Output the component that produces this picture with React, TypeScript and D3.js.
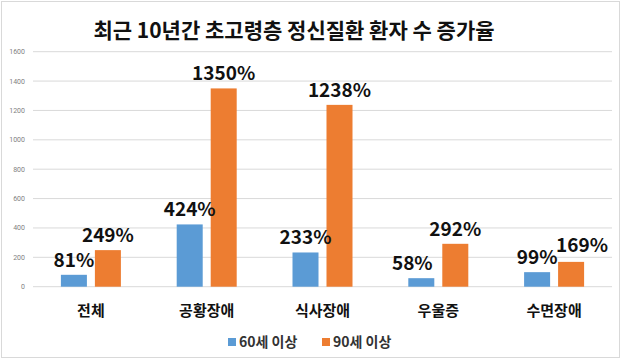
import React, { useEffect, useRef } from "react";
import * as d3 from "d3";

// chart data
const categories = ["전체", "공황장애", "식사장애", "우울증", "수면장애"];
const seriesNames = ["60세 이상", "90세 이상"];
const age60 = [81, 424, 233, 58, 99];
const age90 = [249, 1350, 1238, 292, 169];
const yTicks = [0, 200, 400, 600, 800, 1000, 1200, 1400, 1600];
const colors = ["#5B9BD5", "#ED7D31"];

const W = 622;
const H = 363;
const KR = "'Noto Sans CJK KR', 'Noto Sans', sans-serif";

// labels that were dragged aside in the original so they don't collide
const labelShift: Record<string, [number, number]> = {
  "우울증|60세 이상": [-9, 0],
  "수면장애|90세 이상": [11, -2],
};

export default function App() {
  const ref = useRef<SVGSVGElement>(null);

  useEffect(() => {
    const svg = d3.select(ref.current);
    svg.selectAll("*").remove();

    // outer border
    svg.append("rect")
      .attr("x", 1.5).attr("y", 1.5)
      .attr("width", W - 4).attr("height", 356)
      .attr("fill", "#fff")
      .attr("stroke", "#d9d9d9");

    // title
    svg.append("text")
      .attr("x", 294).attr("y", 38)
      .attr("text-anchor", "middle")
      .attr("font-family", KR)
      .attr("font-weight", 700)
      .attr("font-size", 21)
      .attr("fill", "#111")
      .text("최근 10년간 초고령층 정신질환 환자 수 증가율");

    var left = 33, right = 612;
    var y = d3.scaleLinear().domain([0, 1600]).range([286.7, 51.7]);
    var x0 = d3.scaleBand().domain(categories).range([left, right]).padding(0);
    var inner = (x0.bandwidth() - 60) / 2;
    var x1 = d3.scaleBand().domain(seriesNames)
      .range([inner, inner + 60])
      .paddingInner(0.235).paddingOuter(0);

    // grid + y tick labels
    var grid = svg.append("g");
    grid.selectAll("line").data(yTicks).join("line")
      .attr("x1", left).attr("x2", right)
      .attr("y1", d => y(d)).attr("y2", d => y(d))
      .attr("stroke", "#d9d9d9").attr("stroke-width", 1);
    grid.selectAll("text").data(yTicks).join("text")
      .attr("x", 25).attr("y", d => y(d))
      .attr("dy", "0.35em")
      .attr("text-anchor", "end")
      .attr("font-family", "Roboto, sans-serif")
      .attr("font-size", 7)
      .attr("fill", "#7f7f7f")
      .text(d => d);

    var series = [age60, age90];
    var rows = categories.map((c, i) => ({ c, vals: series.map((s, k) => ({ k, c, name: seriesNames[k], v: s[i] })) }));

    var groups = svg.selectAll(".grp").data(rows).join("g")
      .attr("class", "grp")
      .attr("transform", d => `translate(${x0(d.c)},0)`);

    groups.selectAll("rect").data(d => d.vals).join("rect")
      .attr("x", d => x1(d.name)!)
      .attr("y", d => y(d.v))
      .attr("width", x1.bandwidth())
      .attr("height", d => y(0) - y(d.v))
      .attr("fill", d => colors[d.k]);

    const shift = (d: any) => labelShift[d.c + "|" + d.name] || [0, 0];

    groups.selectAll(".lbl").data(d => d.vals).join("text")
      .attr("class", "lbl")
      .attr("x", d => x1(d.name)! + x1.bandwidth() / 2 + shift(d)[0])
      .attr("y", d => y(d.v) - 8 + shift(d)[1])
      .attr("text-anchor", "middle")
      .attr("font-family", KR)
      .attr("font-weight", 700)
      .attr("font-size", 19)
      .attr("fill", "#111")
      .text(d => d.v + "%");

    // category labels
    svg.selectAll(".cat").data(categories).join("text")
      .attr("class", "cat")
      .attr("x", d => x0(d)! + x0.bandwidth() / 2)
      .attr("y", 316)
      .attr("text-anchor", "middle")
      .attr("font-family", KR)
      .attr("font-weight", 700)
      .attr("font-size", 15)
      .attr("fill", "#111")
      .text(d => d);

    // legend
    var legendX = [228, 322];
    var lg = svg.selectAll(".leg").data(seriesNames).join("g")
      .attr("class", "leg")
      .attr("transform", (d, i) => `translate(${legendX[i]},338)`);
    lg.append("rect").attr("width", 8).attr("height", 8)
      .attr("fill", (d, i) => colors[i]);
    lg.append("text")
      .attr("x", 11).attr("y", 9)
      .attr("font-family", KR)
      .attr("font-weight", 700)
      .attr("font-size", 14)
      .attr("fill", "#333")
      .text(d => d);
  }, []);

  return (
    <svg ref={ref} width={W} height={H}
      style={{ position: "absolute", left: 0, top: 0, background: "#fff" }} />
  );
}
